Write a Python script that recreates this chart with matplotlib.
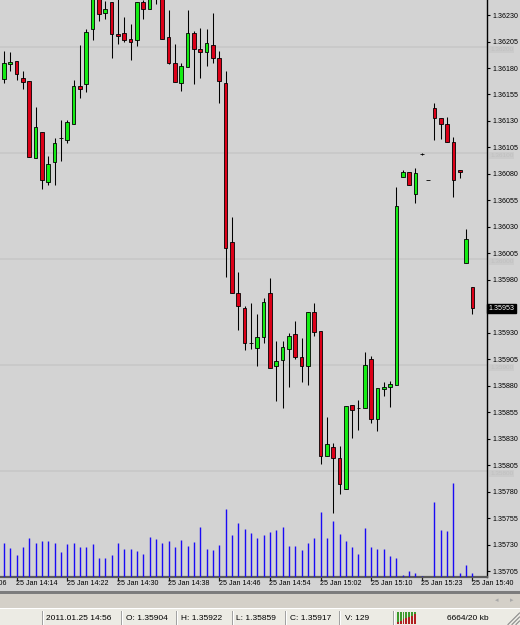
import numpy as np
import matplotlib.pyplot as plt
import matplotlib.transforms as mtransforms
from matplotlib.patches import Rectangle
from matplotlib.lines import Line2D

plt.rcParams['font.family'] = ['Liberation Sans', 'DejaVu Sans']

# EURUSD-like M1 bars, 25 Jan 2011
opens = [1.36170, 1.36184, 1.36187, 1.36171, 1.36168, 1.36095, 1.36120, 1.36072, 1.36091, 1.36114,
         1.36112, 1.36127, 1.36163, 1.36165, 1.36217, 1.36247, 1.36232, 1.36242, 1.36212, 1.36213,
         1.36207, 1.36206, 1.36242, 1.36236, 1.36255, 1.36250, 1.36209, 1.36185, 1.36166, 1.36181,
         1.36213, 1.36198, 1.36195, 1.36202, 1.36189, 1.36166, 1.36016, 1.35968, 1.35953, 1.35920,
         1.35916, 1.35926, 1.35968, 1.35899, 1.35904, 1.35915, 1.35929, 1.35907, 1.35899, 1.35950,
         1.35932, 1.35814, 1.35822, 1.35812, 1.35783, 1.35862, 1.35859, 1.35859, 1.35905, 1.35849,
         1.35877, 1.35879, 1.35881, 1.36077, 1.36082, 1.36061, 1.36099, 1.36074, 1.36142, 1.36133,
         1.36127, 1.36110, 1.36084, 1.35996, 1.35973]
highs = [1.36196, 1.36195, 1.36187, 1.36177, 1.36168, 1.36143, 1.36120, 1.36097, 1.36114, 1.36131,
         1.36131, 1.36169, 1.36202, 1.36217, 1.36249, 1.36250, 1.36243, 1.36242, 1.36247, 1.36228,
         1.36222, 1.36242, 1.36244, 1.36250, 1.36258, 1.36252, 1.36235, 1.36203, 1.36185, 1.36235,
         1.36215, 1.36218, 1.36217, 1.36232, 1.36196, 1.36177, 1.36039, 1.35987, 1.35955, 1.35958,
         1.35948, 1.35963, 1.35982, 1.35922, 1.35922, 1.35930, 1.35941, 1.35925, 1.35950, 1.35958,
         1.35932, 1.35851, 1.35826, 1.35823, 1.35861, 1.35862, 1.35867, 1.35912, 1.35908, 1.35878,
         1.35884, 1.35885, 1.36068, 1.36084, 1.36082, 1.36086, 1.36100, 1.36074, 1.36147, 1.36133,
         1.36134, 1.36115, 1.36084, 1.36028, 1.35973]
lows = [1.36166, 1.36177, 1.36169, 1.36160, 1.36096, 1.36095, 1.36066, 1.36070, 1.36070, 1.36092,
        1.36109, 1.36127, 1.36152, 1.36157, 1.36206, 1.36224, 1.36226, 1.36189, 1.36203, 1.36205,
        1.36188, 1.36201, 1.36226, 1.36236, 1.36240, 1.36207, 1.36184, 1.36167, 1.36158, 1.36181,
        1.36165, 1.36171, 1.36182, 1.36185, 1.36147, 1.35983, 1.35968, 1.35933, 1.35914, 1.35915,
        1.35899, 1.35920, 1.35897, 1.35866, 1.35859, 1.35879, 1.35905, 1.35884, 1.35881, 1.35927,
        1.35806, 1.35814, 1.35760, 1.35778, 1.35783, 1.35831, 1.35838, 1.35859, 1.35845, 1.35837,
        1.35870, 1.35860, 1.35881, 1.36077, 1.36070, 1.36053, 1.36098, 1.36074, 1.36112, 1.36113,
        1.36110, 1.36058, 1.36076, 1.35996, 1.35948]
closes = [1.36185, 1.36186, 1.36174, 1.36167, 1.36096, 1.36124, 1.36074, 1.36089, 1.36109, 1.36114,
          1.36129, 1.36163, 1.36160, 1.36214, 1.36246, 1.36231, 1.36236, 1.36212, 1.36210, 1.36206,
          1.36205, 1.36242, 1.36236, 1.36248, 1.36252, 1.36207, 1.36185, 1.36167, 1.36182, 1.36213,
          1.36198, 1.36195, 1.36204, 1.36189, 1.36168, 1.36010, 1.35968, 1.35955, 1.35920, 1.35920,
          1.35926, 1.35959, 1.35897, 1.35903, 1.35917, 1.35927, 1.35907, 1.35899, 1.35950, 1.35931,
          1.35814, 1.35825, 1.35812, 1.35787, 1.35861, 1.35857, 1.35859, 1.35900, 1.35849, 1.35878,
          1.35879, 1.35882, 1.36050, 1.36082, 1.36070, 1.36081, 1.36099, 1.36074, 1.36133, 1.36127,
          1.36110, 1.36074, 1.36082, 1.36019, 1.35953]
volumes = [88, 75, 57, 77, 101, 88, 93, 93, 88, 65, 85, 88, 77, 77, 85, 49, 49, 57, 88, 72,
           72, 67, 59, 103, 98, 88, 93, 77, 95, 80, 90, 129, 72, 70, 83, 175, 108, 139, 124, 114,
           101, 108, 116, 121, 129, 80, 80, 70, 88, 101, 168, 101, 144, 111, 93, 77, 59, 126, 77, 72,
           72, 54, 49, 5, 15, 10, 3, 1, 194, 121, 119, 243, 10, 31, 10]

tick_bars = [-6, 2, 10, 18, 26, 34, 42, 50, 58, 66, 74]
tick_labels = ['25 Jan 14:06', '25 Jan 14:14', '25 Jan 14:22', '25 Jan 14:30', '25 Jan 14:38',
               '25 Jan 14:46', '25 Jan 14:54', '25 Jan 15:02', '25 Jan 15:10', '25 Jan 15:23',
               '25 Jan 15:40']
price_ticks = [1.36230, 1.36205, 1.36180, 1.36155, 1.36130, 1.36105, 1.36080, 1.36055, 1.36030,
               1.36005, 1.35980, 1.35930, 1.35905, 1.35880, 1.35855, 1.35830, 1.35805, 1.35780,
               1.35755, 1.35730, 1.35705]
grid_levels = [1.36200, 1.36100, 1.36000, 1.35900, 1.35800]
last_price = 1.35953
status_fields = ['2011.01.25 14:56', 'O: 1.35904', 'H: 1.35922', 'L: 1.35859', 'C: 1.35917', 'V: 129']
status_x = [46, 126, 181, 236, 290, 345]
memory_text = '6664/20 kb'

W, H = 520, 625
bg = '#d3d3d3'
up_col, down_col = '#14ec14', '#dc0018'

fig = plt.figure(figsize=(W / 100, H / 100), dpi=100, facecolor=bg)
rect = [0, 48 / H, 487 / W, 577 / H]
ax = fig.add_axes(rect, facecolor=bg)

x = np.arange(len(opens))
o = np.array(opens)
c = np.array(closes)
colors = [up_col if cc >= oo else down_col for oo, cc in zip(o, c)]

for lvl in grid_levels:
    ax.axhline(lvl, color='#c8c8c8', lw=1.2, zorder=0.5)

ax.vlines(x, lows, highs, color='black', lw=0.75, zorder=2)
ax.bar(x, c - o, bottom=o, width=0.58, color=colors, edgecolor='black', linewidth=0.6, zorder=3)

ax.set_xlim(-0.632, 76.30)
ax.set_ylim(1.356995, 1.362442)

# price scale on the right
ax.yaxis.tick_right()
ax.set_yticks(price_ticks + [last_price])
ax.set_yticklabels(['%.5f' % p for p in price_ticks] + [''])
ax.tick_params(axis='y', direction='out', length=2.5, width=0.8, pad=1.4, labelsize=5.1, colors='black')

blend_y = mtransforms.blended_transform_factory(ax.transAxes, ax.transData)
ax.text(1.0 + 1.5 / 487, last_price, '1.35953', transform=blend_y, color='white', fontsize=5.1,
        va='center', ha='left', clip_on=False, zorder=5,
        bbox=dict(boxstyle='square,pad=0.18', fc='black', ec='black'))
# faint grid-level labels behind the price scale
for lvl in grid_levels:
    ax.text(1.0 + 3 / 487, lvl - 0.000025, '%.5f' % lvl, transform=blend_y, color='#c0c0c0',
            fontsize=4.6, va='center', ha='left', clip_on=False, zorder=1,
            bbox=dict(boxstyle='square,pad=0.15', fc='#cbcbcb', ec='none'))

# time scale
ax.set_xticks(tick_bars[1:])
ax.set_xticklabels([''] * (len(tick_bars) - 1))
ax.tick_params(axis='x', direction='out', length=3, width=0.9, colors='#202020')
blend_x = mtransforms.blended_transform_factory(ax.transData, ax.transAxes)
for b, lab in zip(tick_bars, tick_labels):
    ax.text(b - 0.1, -0.0055, lab, transform=blend_x, ha='left', va='top', fontsize=5.1,
            clip_on=False)

for side in ['left', 'top']:
    ax.spines[side].set_visible(False)
ax.spines['right'].set_color('black')
ax.spines['right'].set_linewidth(1.0)
ax.spines['bottom'].set_color('#5a5a5a')
ax.spines['bottom'].set_linewidth(1.6)

# volumes in the same window
vax = fig.add_axes(rect, sharex=ax)
vax.patch.set_visible(False)
vax.axis('off')
vax.set_ylim(0, 577 * 2.58)
vax.vlines(x, 0, volumes, color='#1a0af5', lw=1.0)


# window chrome below the chart
def fig_rect(x0, y0, x1, y1, color):
    fig.add_artist(Rectangle((x0 / W, 1 - y1 / H), (x1 - x0) / W, (y1 - y0) / H,
                             transform=fig.transFigure, facecolor=color, edgecolor='none', zorder=1))


def fig_line(x0, y0, x1, y1, color, lw=0.8):
    fig.add_artist(Line2D([x0 / W, x1 / W], [1 - y0 / H, 1 - y1 / H], transform=fig.transFigure,
                          color=color, lw=lw, zorder=2))


fig_rect(0, 591, W, 593.5, '#7c7c7c')
fig_rect(0, 593.5, W, 608, '#d4d0c8')
fig_rect(0, 608, W, 609, '#ffffff')
fig_rect(0, 609, W, H, '#ecebe4')
fig.text(497 / W, 1 - 600.5 / H, '\u25c2', fontsize=5, color='#a8a8a8', ha='center', va='center',
         family='DejaVu Sans')
fig.text(512 / W, 1 - 600.5 / H, '\u25b8', fontsize=5, color='#a8a8a8', ha='center', va='center',
         family='DejaVu Sans')

for sx in [42, 121, 176, 232, 285, 339, 393]:
    fig_line(sx, 611, sx, H, '#a0a0a0', lw=0.7)
    fig_line(sx + 1, 611, sx + 1, H, '#ffffff', lw=0.7)

for lab, sx in zip(status_fields, status_x):
    fig.text(sx / W, 1 - 619 / H, lab, fontsize=6, ha='left', va='center', color='black')
fig.text(447 / W, 1 - 619 / H, memory_text, fontsize=6, ha='left', va='center', color='black')

# connection indicator
for i in range(7):
    sx = 397 + 2.8 * i
    split = 622 - 1.3 * i
    fig_rect(sx, 612, sx + 1.8, split, '#3c9a2c')
    fig_rect(sx, split, sx + 1.8, 623.5, '#b02020')

# resize grip
for d in [4, 8, 12]:
    fig_line(W - d, H - 0.5, W - 0.5, H - d, '#8a8a8a', lw=0.8)

fig.savefig('out.png', dpi=100, facecolor=fig.get_facecolor())
